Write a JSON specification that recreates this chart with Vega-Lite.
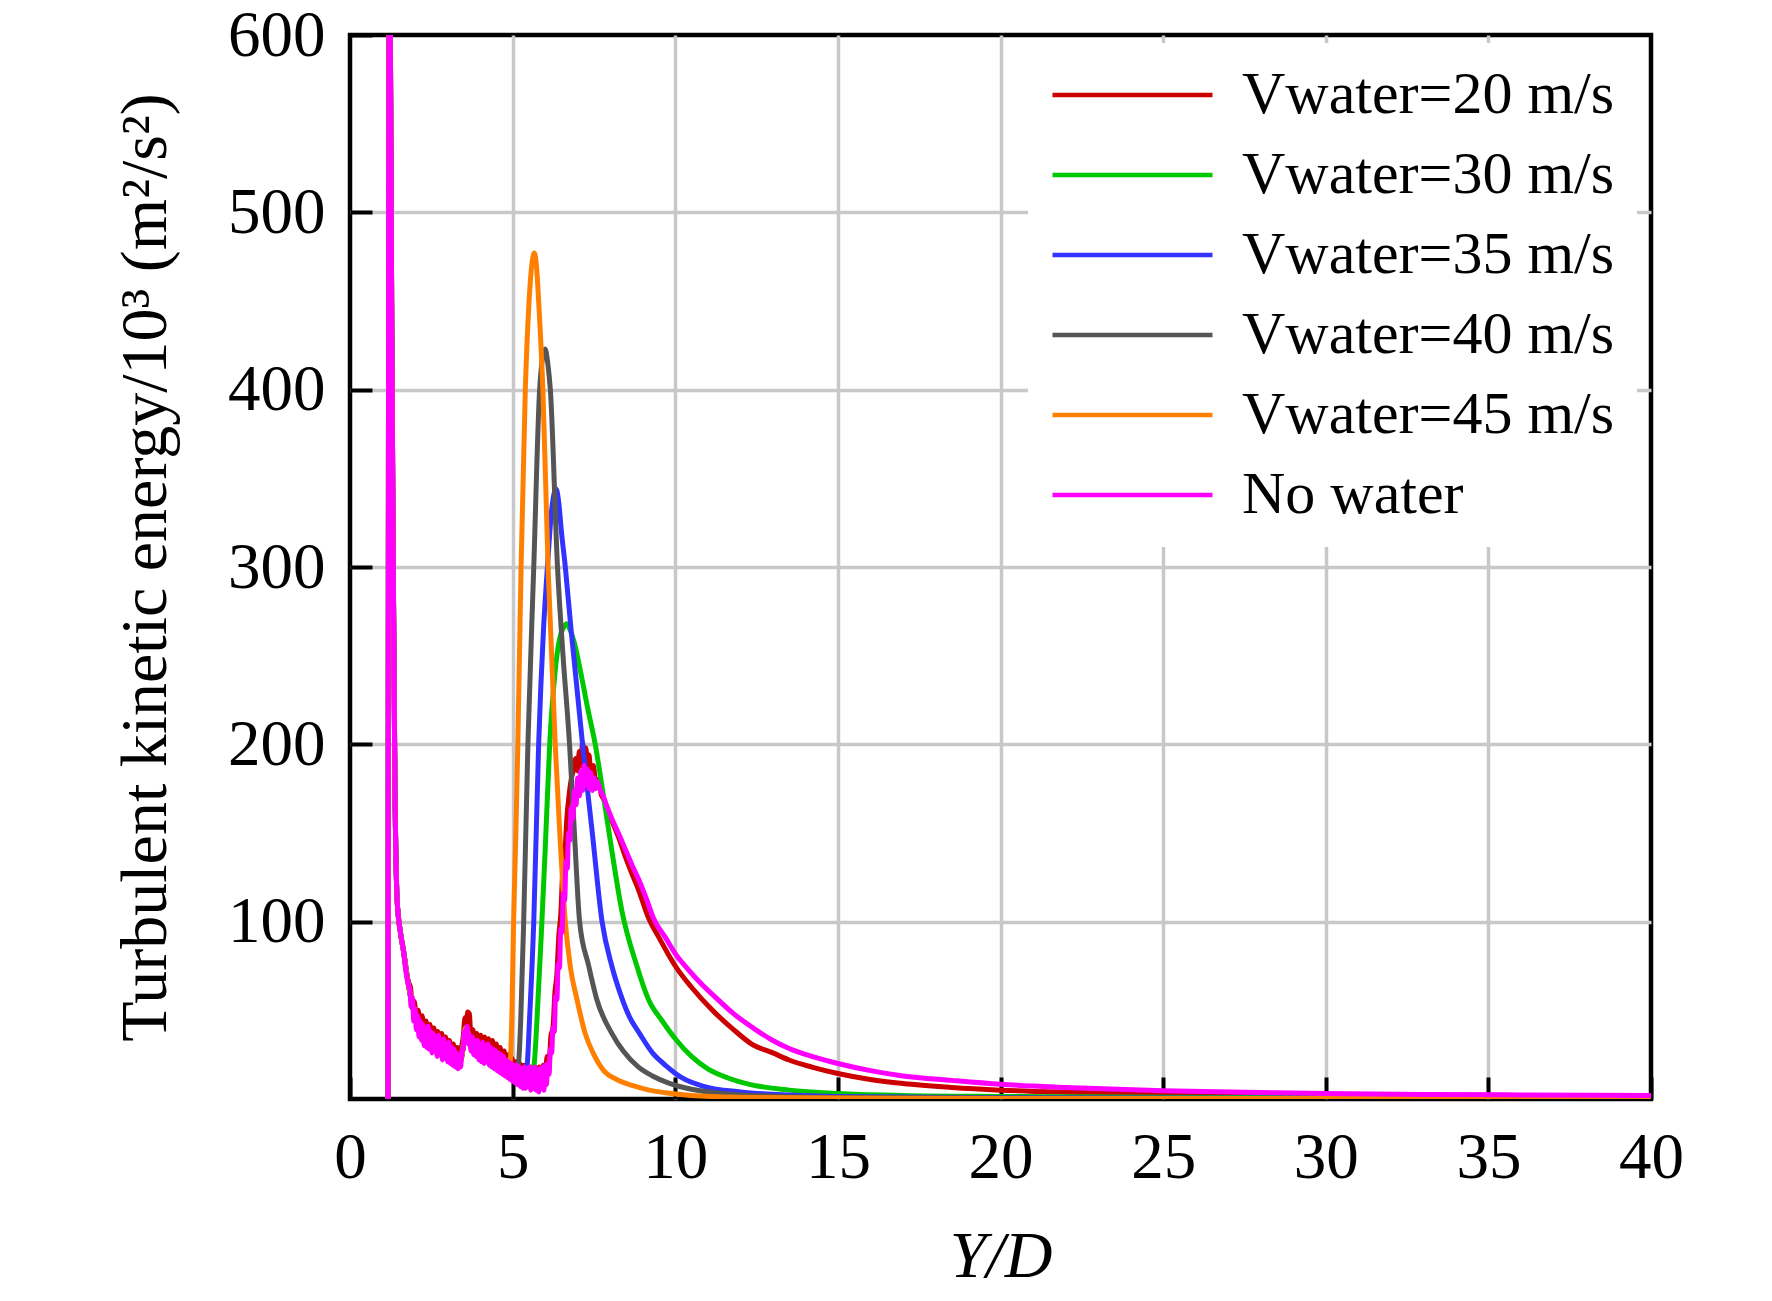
{
  "$schema": "https://vega.github.io/schema/vega-lite/v6.json",
  "width": 1301,
  "height": 1064,
  "autosize": {"type": "none"},
  "padding": {"left": 350, "top": 35, "right": 121, "bottom": 202},
  "background": "white",
  "data": {
    "values": [
      {"series":"V20","x":1.17,"k":0},{"series":"V20","x":1.2,"k":600},{"series":"V20","x":1.24,"k":600},{"series":"V20","x":1.28,"k":450},{"series":"V20","x":1.33,"k":300},{"series":"V20","x":1.38,"k":180},{"series":"V20","x":1.45,"k":112},{"series":"V20","x":1.55,"k":94},{"series":"V20","x":1.65,"k":83},{"series":"V20","x":1.72,"k":73},{"series":"V20","x":1.8,"k":66},
      {"series":"V20","x":1.86,"k":63},{"series":"V20","x":1.92,"k":51},{"series":"V20","x":1.98,"k":55},{"series":"V20","x":2.04,"k":43},{"series":"V20","x":2.1,"k":50},{"series":"V20","x":2.16,"k":38},{"series":"V20","x":2.22,"k":47},{"series":"V20","x":2.28,"k":35},{"series":"V20","x":2.34,"k":44},{"series":"V20","x":2.4,"k":33},{"series":"V20","x":2.46,"k":42},{"series":"V20","x":2.52,"k":31},{"series":"V20","x":2.58,"k":40},{"series":"V20","x":2.64,"k":29},{"series":"V20","x":2.7,"k":38},{"series":"V20","x":2.76,"k":28},{"series":"V20","x":2.82,"k":37},{"series":"V20","x":2.88,"k":27},{"series":"V20","x":2.94,"k":35},{"series":"V20","x":3.0,"k":25},{"series":"V20","x":3.06,"k":33},{"series":"V20","x":3.12,"k":24},{"series":"V20","x":3.18,"k":31},{"series":"V20","x":3.24,"k":22},{"series":"V20","x":3.3,"k":29},{"series":"V20","x":3.36,"k":21},{"series":"V20","x":3.42,"k":28},{"series":"V20","x":3.48,"k":35},{"series":"V20","x":3.54,"k":46},{"series":"V20","x":3.58,"k":42},{"series":"V20","x":3.62,"k":49},{"series":"V20","x":3.67,"k":48},{"series":"V20","x":3.72,"k":35},{"series":"V20","x":3.78,"k":39},{"series":"V20","x":3.84,"k":30},{"series":"V20","x":3.9,"k":37},{"series":"V20","x":3.96,"k":28},{"series":"V20","x":4.02,"k":36},{"series":"V20","x":4.08,"k":27},{"series":"V20","x":4.14,"k":35},{"series":"V20","x":4.2,"k":26},{"series":"V20","x":4.26,"k":34},{"series":"V20","x":4.32,"k":25},{"series":"V20","x":4.38,"k":33},{"series":"V20","x":4.44,"k":23},{"series":"V20","x":4.5,"k":31},{"series":"V20","x":4.56,"k":22},{"series":"V20","x":4.62,"k":29},{"series":"V20","x":4.68,"k":20},{"series":"V20","x":4.74,"k":27},{"series":"V20","x":4.8,"k":18},{"series":"V20","x":4.86,"k":25},{"series":"V20","x":4.92,"k":16},{"series":"V20","x":4.98,"k":23},{"series":"V20","x":5.04,"k":14},{"series":"V20","x":5.1,"k":21},{"series":"V20","x":5.16,"k":12},{"series":"V20","x":5.22,"k":20},{"series":"V20","x":5.28,"k":11},{"series":"V20","x":5.34,"k":19},{"series":"V20","x":5.4,"k":10},{"series":"V20","x":5.46,"k":19},{"series":"V20","x":5.52,"k":9},{"series":"V20","x":5.58,"k":18},{"series":"V20","x":5.64,"k":9},{"series":"V20","x":5.7,"k":18},{"series":"V20","x":5.76,"k":8},{"series":"V20","x":5.82,"k":18},{"series":"V20","x":5.88,"k":9},{"series":"V20","x":5.94,"k":19},{"series":"V20","x":6.0,"k":12},{"series":"V20","x":6.06,"k":24},{"series":"V20","x":6.12,"k":20},{"series":"V20","x":6.18,"k":36},{"series":"V20","x":6.24,"k":40},{"series":"V20","x":6.3,"k":60},{"series":"V20","x":6.36,"k":70},{"series":"V20","x":6.42,"k":92},{"series":"V20","x":6.48,"k":104},{"series":"V20","x":6.54,"k":128},{"series":"V20","x":6.6,"k":136},{"series":"V20","x":6.67,"k":159},{"series":"V20","x":6.74,"k":172},{"series":"V20","x":6.82,"k":182},{"series":"V20","x":6.88,"k":186},{"series":"V20","x":6.94,"k":192},{"series":"V20","x":7.0,"k":185},{"series":"V20","x":7.05,"k":196},{"series":"V20","x":7.1,"k":188},{"series":"V20","x":7.15,"k":201},{"series":"V20","x":7.2,"k":191},{"series":"V20","x":7.25,"k":198},{"series":"V20","x":7.3,"k":187},{"series":"V20","x":7.35,"k":194},{"series":"V20","x":7.4,"k":184},{"series":"V20","x":7.48,"k":188},{"series":"V20","x":7.56,"k":178},{"series":"V20","x":7.64,"k":180},{"series":"V20","x":7.72,"k":172},{"series":"V20","x":7.8,"k":169},{"series":"V20","x":7.9,"k":164},{"series":"V20","x":8.05,"k":157},{"series":"V20","x":8.25,"k":148},{"series":"V20","x":8.46,"k":137},{"series":"V20","x":8.67,"k":127},{"series":"V20","x":8.87,"k":118},{"series":"V20","x":9.18,"k":102},{"series":"V20","x":9.5,"k":91},{"series":"V20","x":10.0,"k":75},{"series":"V20","x":10.5,"k":63},{"series":"V20","x":11.2,"k":49},{"series":"V20","x":11.8,"k":39},{"series":"V20","x":12.35,"k":31},{"series":"V20","x":13.0,"k":26},{"series":"V20","x":13.5,"k":22},{"series":"V20","x":14.2,"k":18},{"series":"V20","x":15,"k":14.4},{"series":"V20","x":16,"k":11},{"series":"V20","x":17,"k":8.7},{"series":"V20","x":18.5,"k":6.5},{"series":"V20","x":20,"k":5},{"series":"V20","x":22,"k":3.8},{"series":"V20","x":25,"k":2.7},{"series":"V20","x":30,"k":1.8},{"series":"V20","x":35,"k":1.4},{"series":"V20","x":40,"k":1.2},

      {"series":"V30","x":1.17,"k":0},{"series":"V30","x":1.2,"k":600},{"series":"V30","x":1.24,"k":600},{"series":"V30","x":1.28,"k":450},{"series":"V30","x":1.33,"k":300},{"series":"V30","x":1.38,"k":180},{"series":"V30","x":1.45,"k":112},{"series":"V30","x":1.55,"k":94},{"series":"V30","x":1.65,"k":83},{"series":"V30","x":1.8,"k":64},{"series":"V30","x":2.0,"k":47},{"series":"V30","x":2.2,"k":39},{"series":"V30","x":2.4,"k":35},{"series":"V30","x":2.6,"k":32},{"series":"V30","x":2.8,"k":30},{"series":"V30","x":3.0,"k":27.5},{"series":"V30","x":3.2,"k":24},{"series":"V30","x":3.4,"k":21.5},{"series":"V30","x":3.47,"k":28},{"series":"V30","x":3.55,"k":40},{"series":"V30","x":3.62,"k":38},{"series":"V30","x":3.7,"k":33},{"series":"V30","x":3.85,"k":30},{"series":"V30","x":4.0,"k":28.5},{"series":"V30","x":4.2,"k":27},{"series":"V30","x":4.4,"k":25},{"series":"V30","x":4.6,"k":22.5},{"series":"V30","x":4.8,"k":20},
      {"series":"V30","x":5.0,"k":17},{"series":"V30","x":5.2,"k":15},{"series":"V30","x":5.4,"k":14},{"series":"V30","x":5.55,"k":15},{"series":"V30","x":5.65,"k":18},{"series":"V30","x":5.75,"k":45},{"series":"V30","x":5.9,"k":100},{"series":"V30","x":6.0,"k":140},{"series":"V30","x":6.14,"k":200},{"series":"V30","x":6.3,"k":240},{"series":"V30","x":6.45,"k":260},{"series":"V30","x":6.57,"k":266},{"series":"V30","x":6.66,"k":268},{"series":"V30","x":6.78,"k":264},{"series":"V30","x":6.9,"k":257},{"series":"V30","x":7.1,"k":240},{"series":"V30","x":7.3,"k":221},{"series":"V30","x":7.54,"k":200},{"series":"V30","x":7.8,"k":170},{"series":"V30","x":8.05,"k":140},{"series":"V30","x":8.36,"k":106},{"series":"V30","x":8.82,"k":75},{"series":"V30","x":9.18,"k":56},{"series":"V30","x":9.6,"k":44},{"series":"V30","x":10.0,"k":34},{"series":"V30","x":10.5,"k":24},{"series":"V30","x":11.0,"k":17},{"series":"V30","x":11.6,"k":12},{"series":"V30","x":12.35,"k":8},{"series":"V30","x":13.5,"k":5},{"series":"V30","x":15,"k":3.1},{"series":"V30","x":17,"k":2},{"series":"V30","x":20,"k":1.4},{"series":"V30","x":25,"k":1},{"series":"V30","x":30,"k":0.7},{"series":"V30","x":40,"k":0.5},

      {"series":"V35","x":1.17,"k":0},{"series":"V35","x":1.2,"k":600},{"series":"V35","x":1.24,"k":600},{"series":"V35","x":1.28,"k":450},{"series":"V35","x":1.33,"k":300},{"series":"V35","x":1.38,"k":180},{"series":"V35","x":1.45,"k":112},{"series":"V35","x":1.55,"k":94},{"series":"V35","x":1.65,"k":83},{"series":"V35","x":1.8,"k":64},{"series":"V35","x":2.0,"k":47},{"series":"V35","x":2.2,"k":39},{"series":"V35","x":2.4,"k":35},{"series":"V35","x":2.6,"k":32},{"series":"V35","x":2.8,"k":30},{"series":"V35","x":3.0,"k":27.5},{"series":"V35","x":3.2,"k":24},{"series":"V35","x":3.4,"k":21.5},{"series":"V35","x":3.47,"k":28},{"series":"V35","x":3.55,"k":40},{"series":"V35","x":3.62,"k":38},{"series":"V35","x":3.7,"k":33},{"series":"V35","x":3.85,"k":30},{"series":"V35","x":4.0,"k":28.5},{"series":"V35","x":4.2,"k":27},{"series":"V35","x":4.4,"k":25},{"series":"V35","x":4.6,"k":22.5},{"series":"V35","x":4.8,"k":20},
      {"series":"V35","x":5.0,"k":17},{"series":"V35","x":5.2,"k":15},{"series":"V35","x":5.35,"k":15},{"series":"V35","x":5.44,"k":18},{"series":"V35","x":5.52,"k":45},{"series":"V35","x":5.65,"k":100},{"series":"V35","x":5.8,"k":200},{"series":"V35","x":5.95,"k":265},{"series":"V35","x":6.07,"k":300},{"series":"V35","x":6.2,"k":332},{"series":"V35","x":6.34,"k":344},{"series":"V35","x":6.42,"k":336},{"series":"V35","x":6.5,"k":320},{"series":"V35","x":6.62,"k":300},{"series":"V35","x":6.8,"k":264},{"series":"V35","x":7.15,"k":200},{"series":"V35","x":7.45,"k":150},{"series":"V35","x":7.75,"k":100},{"series":"V35","x":8.05,"k":75},{"series":"V35","x":8.3,"k":60},{"series":"V35","x":8.6,"k":46},{"series":"V35","x":8.9,"k":37},{"series":"V35","x":9.3,"k":26},{"series":"V35","x":9.7,"k":19},{"series":"V35","x":10.2,"k":12},{"series":"V35","x":10.9,"k":7},{"series":"V35","x":12,"k":4},{"series":"V35","x":13.5,"k":2.2},{"series":"V35","x":15,"k":1.4},{"series":"V35","x":20,"k":0.7},{"series":"V35","x":40,"k":0.3},

      {"series":"V40","x":1.17,"k":0},{"series":"V40","x":1.2,"k":600},{"series":"V40","x":1.24,"k":600},{"series":"V40","x":1.28,"k":450},{"series":"V40","x":1.33,"k":300},{"series":"V40","x":1.38,"k":180},{"series":"V40","x":1.45,"k":112},{"series":"V40","x":1.55,"k":94},{"series":"V40","x":1.65,"k":83},{"series":"V40","x":1.8,"k":64},{"series":"V40","x":2.0,"k":47},{"series":"V40","x":2.2,"k":39},{"series":"V40","x":2.4,"k":35},{"series":"V40","x":2.6,"k":32},{"series":"V40","x":2.8,"k":30},{"series":"V40","x":3.0,"k":27.5},{"series":"V40","x":3.2,"k":24},{"series":"V40","x":3.4,"k":21.5},{"series":"V40","x":3.47,"k":28},{"series":"V40","x":3.55,"k":40},{"series":"V40","x":3.62,"k":38},{"series":"V40","x":3.7,"k":33},{"series":"V40","x":3.85,"k":30},{"series":"V40","x":4.0,"k":28.5},{"series":"V40","x":4.2,"k":27},{"series":"V40","x":4.4,"k":25},{"series":"V40","x":4.6,"k":22.5},{"series":"V40","x":4.8,"k":20},
      {"series":"V40","x":5.0,"k":17},{"series":"V40","x":5.1,"k":16},{"series":"V40","x":5.18,"k":20},{"series":"V40","x":5.25,"k":45},{"series":"V40","x":5.34,"k":100},{"series":"V40","x":5.47,"k":200},{"series":"V40","x":5.65,"k":300},{"series":"V40","x":5.83,"k":400},{"series":"V40","x":5.92,"k":418},{"series":"V40","x":6.0,"k":423},{"series":"V40","x":6.08,"k":415},{"series":"V40","x":6.16,"k":400},{"series":"V40","x":6.38,"k":300},{"series":"V40","x":6.55,"k":250},{"series":"V40","x":6.75,"k":200},{"series":"V40","x":6.9,"k":150},{"series":"V40","x":7.06,"k":100},{"series":"V40","x":7.34,"k":75},{"series":"V40","x":7.59,"k":56},{"series":"V40","x":8.05,"k":37},{"series":"V40","x":8.4,"k":27},{"series":"V40","x":8.87,"k":18},{"series":"V40","x":9.3,"k":13},{"series":"V40","x":9.8,"k":9},{"series":"V40","x":10.5,"k":5.5},{"series":"V40","x":11.5,"k":3},{"series":"V40","x":13,"k":1.6},{"series":"V40","x":15,"k":0.9},{"series":"V40","x":20,"k":0.5},{"series":"V40","x":40,"k":0.2},

      {"series":"V45","x":1.17,"k":0},{"series":"V45","x":1.2,"k":600},{"series":"V45","x":1.24,"k":600},{"series":"V45","x":1.28,"k":450},{"series":"V45","x":1.33,"k":300},{"series":"V45","x":1.38,"k":180},{"series":"V45","x":1.45,"k":112},{"series":"V45","x":1.55,"k":94},{"series":"V45","x":1.65,"k":83},{"series":"V45","x":1.8,"k":64},{"series":"V45","x":2.0,"k":47},{"series":"V45","x":2.2,"k":39},{"series":"V45","x":2.4,"k":35},{"series":"V45","x":2.6,"k":32},{"series":"V45","x":2.8,"k":30},{"series":"V45","x":3.0,"k":27.5},{"series":"V45","x":3.2,"k":24},{"series":"V45","x":3.4,"k":21.5},{"series":"V45","x":3.47,"k":28},{"series":"V45","x":3.55,"k":40},{"series":"V45","x":3.62,"k":38},{"series":"V45","x":3.7,"k":33},{"series":"V45","x":3.85,"k":30},{"series":"V45","x":4.0,"k":28.5},{"series":"V45","x":4.2,"k":27},{"series":"V45","x":4.4,"k":25},{"series":"V45","x":4.6,"k":22.5},{"series":"V45","x":4.8,"k":20},
      {"series":"V45","x":4.85,"k":18},{"series":"V45","x":4.93,"k":22},{"series":"V45","x":4.98,"k":50},{"series":"V45","x":5.03,"k":100},{"series":"V45","x":5.1,"k":150},{"series":"V45","x":5.16,"k":200},{"series":"V45","x":5.26,"k":300},{"series":"V45","x":5.39,"k":400},{"series":"V45","x":5.5,"k":448},{"series":"V45","x":5.6,"k":472},{"series":"V45","x":5.67,"k":477},{"series":"V45","x":5.74,"k":468},{"series":"V45","x":5.8,"k":450},{"series":"V45","x":5.93,"k":400},{"series":"V45","x":6.09,"k":300},{"series":"V45","x":6.31,"k":200},{"series":"V45","x":6.45,"k":150},{"series":"V45","x":6.62,"k":100},{"series":"V45","x":6.77,"k":75},{"series":"V45","x":6.98,"k":56},{"series":"V45","x":7.23,"k":37},{"series":"V45","x":7.5,"k":25},{"series":"V45","x":7.8,"k":16},{"series":"V45","x":8.2,"k":11},{"series":"V45","x":8.7,"k":7.5},{"series":"V45","x":9.2,"k":5},{"series":"V45","x":9.7,"k":3.5},{"series":"V45","x":10.5,"k":2},{"series":"V45","x":12,"k":1},{"series":"V45","x":15,"k":0.5},{"series":"V45","x":20,"k":0.3},{"series":"V45","x":40,"k":0.2},

      {"series":"None","x":1.17,"k":0},{"series":"None","x":1.2,"k":600},{"series":"None","x":1.24,"k":600},{"series":"None","x":1.28,"k":450},{"series":"None","x":1.33,"k":300},{"series":"None","x":1.38,"k":180},{"series":"None","x":1.45,"k":112},{"series":"None","x":1.55,"k":94},{"series":"None","x":1.65,"k":83},{"series":"None","x":1.72,"k":72},{"series":"None","x":1.8,"k":64},
      {"series":"None","x":1.84,"k":62},{"series":"None","x":1.88,"k":52},{"series":"None","x":1.92,"k":57},{"series":"None","x":1.96,"k":44},{"series":"None","x":2.0,"k":51},{"series":"None","x":2.04,"k":39},{"series":"None","x":2.08,"k":47},{"series":"None","x":2.12,"k":35},{"series":"None","x":2.16,"k":44},{"series":"None","x":2.2,"k":33},{"series":"None","x":2.24,"k":42},{"series":"None","x":2.28,"k":30},{"series":"None","x":2.32,"k":40},{"series":"None","x":2.36,"k":29},{"series":"None","x":2.4,"k":41},{"series":"None","x":2.44,"k":28},{"series":"None","x":2.48,"k":38},{"series":"None","x":2.52,"k":26},{"series":"None","x":2.56,"k":37},{"series":"None","x":2.6,"k":27},{"series":"None","x":2.64,"k":35},{"series":"None","x":2.68,"k":24},{"series":"None","x":2.72,"k":36},{"series":"None","x":2.76,"k":25},{"series":"None","x":2.8,"k":33},{"series":"None","x":2.84,"k":22},{"series":"None","x":2.88,"k":34},{"series":"None","x":2.92,"k":23},{"series":"None","x":2.96,"k":31},{"series":"None","x":3.0,"k":21},{"series":"None","x":3.04,"k":32},{"series":"None","x":3.08,"k":20},{"series":"None","x":3.12,"k":29},{"series":"None","x":3.16,"k":19},{"series":"None","x":3.2,"k":28},{"series":"None","x":3.24,"k":18},{"series":"None","x":3.28,"k":26},{"series":"None","x":3.32,"k":17},{"series":"None","x":3.36,"k":25},{"series":"None","x":3.4,"k":18},{"series":"None","x":3.44,"k":27},{"series":"None","x":3.48,"k":28},{"series":"None","x":3.52,"k":38},{"series":"None","x":3.56,"k":36},{"series":"None","x":3.6,"k":41},{"series":"None","x":3.64,"k":31},{"series":"None","x":3.68,"k":36},{"series":"None","x":3.72,"k":27},{"series":"None","x":3.76,"k":35},{"series":"None","x":3.8,"k":25},{"series":"None","x":3.84,"k":33},{"series":"None","x":3.88,"k":24},{"series":"None","x":3.92,"k":33},{"series":"None","x":3.96,"k":22},{"series":"None","x":4.0,"k":31},{"series":"None","x":4.04,"k":21},{"series":"None","x":4.08,"k":32},{"series":"None","x":4.12,"k":20},{"series":"None","x":4.16,"k":30},{"series":"None","x":4.2,"k":21},{"series":"None","x":4.24,"k":31},{"series":"None","x":4.28,"k":19},{"series":"None","x":4.32,"k":29},{"series":"None","x":4.36,"k":18},{"series":"None","x":4.4,"k":28},{"series":"None","x":4.44,"k":17},{"series":"None","x":4.48,"k":27},{"series":"None","x":4.52,"k":16},{"series":"None","x":4.56,"k":26},{"series":"None","x":4.6,"k":15},{"series":"None","x":4.64,"k":25},{"series":"None","x":4.68,"k":14},{"series":"None","x":4.72,"k":24},{"series":"None","x":4.76,"k":13},{"series":"None","x":4.8,"k":22},{"series":"None","x":4.84,"k":12},{"series":"None","x":4.88,"k":21},{"series":"None","x":4.92,"k":11},{"series":"None","x":4.96,"k":20},{"series":"None","x":5.0,"k":10},{"series":"None","x":5.04,"k":19},{"series":"None","x":5.08,"k":9},{"series":"None","x":5.12,"k":19},{"series":"None","x":5.16,"k":8},{"series":"None","x":5.2,"k":18},{"series":"None","x":5.24,"k":7},{"series":"None","x":5.28,"k":17},{"series":"None","x":5.32,"k":6},{"series":"None","x":5.36,"k":18},{"series":"None","x":5.4,"k":6},{"series":"None","x":5.44,"k":17},{"series":"None","x":5.48,"k":7},{"series":"None","x":5.52,"k":18},{"series":"None","x":5.56,"k":5},{"series":"None","x":5.6,"k":17},{"series":"None","x":5.64,"k":6},{"series":"None","x":5.68,"k":18},{"series":"None","x":5.72,"k":5},{"series":"None","x":5.76,"k":16},{"series":"None","x":5.8,"k":4},{"series":"None","x":5.84,"k":17},{"series":"None","x":5.88,"k":6},{"series":"None","x":5.92,"k":18},{"series":"None","x":5.96,"k":5},{"series":"None","x":6.0,"k":19},{"series":"None","x":6.04,"k":8},
      {"series":"None","x":6.08,"k":20},{"series":"None","x":6.12,"k":14},{"series":"None","x":6.16,"k":28},{"series":"None","x":6.2,"k":26},{"series":"None","x":6.24,"k":40},{"series":"None","x":6.28,"k":38},{"series":"None","x":6.32,"k":58},{"series":"None","x":6.36,"k":56},{"series":"None","x":6.4,"k":76},{"series":"None","x":6.44,"k":74},{"series":"None","x":6.48,"k":96},{"series":"None","x":6.52,"k":94},{"series":"None","x":6.56,"k":116},{"series":"None","x":6.6,"k":112},{"series":"None","x":6.64,"k":134},{"series":"None","x":6.68,"k":130},{"series":"None","x":6.72,"k":150},{"series":"None","x":6.76,"k":146},{"series":"None","x":6.8,"k":164},{"series":"None","x":6.85,"k":158},{"series":"None","x":6.9,"k":174},{"series":"None","x":6.95,"k":166},{"series":"None","x":7.0,"k":181},{"series":"None","x":7.05,"k":171},{"series":"None","x":7.1,"k":185},{"series":"None","x":7.15,"k":174},{"series":"None","x":7.2,"k":188},{"series":"None","x":7.25,"k":177},{"series":"None","x":7.3,"k":186},{"series":"None","x":7.35,"k":175},{"series":"None","x":7.4,"k":184},{"series":"None","x":7.45,"k":174},{"series":"None","x":7.5,"k":181},{"series":"None","x":7.55,"k":175},{"series":"None","x":7.6,"k":179},{"series":"None","x":7.7,"k":174},{"series":"None","x":7.8,"k":170},{"series":"None","x":7.9,"k":165},{"series":"None","x":8.05,"k":158},{"series":"None","x":8.25,"k":150},{"series":"None","x":8.46,"k":141},{"series":"None","x":8.67,"k":132},{"series":"None","x":8.87,"k":124},{"series":"None","x":9.13,"k":112},{"series":"None","x":9.33,"k":102},{"series":"None","x":9.7,"k":91},{"series":"None","x":10.0,"k":82},{"series":"None","x":10.4,"k":73},{"series":"None","x":10.8,"k":65},{"series":"None","x":11.2,"k":58},{"series":"None","x":11.8,"k":48},{"series":"None","x":12.4,"k":40},{"series":"None","x":13.0,"k":33},{"series":"None","x":13.5,"k":28.5},{"series":"None","x":14.2,"k":24},{"series":"None","x":15,"k":20},{"series":"None","x":16,"k":16},{"series":"None","x":17,"k":13},{"series":"None","x":18.5,"k":10.5},{"series":"None","x":20,"k":8.3},{"series":"None","x":22,"k":6.5},{"series":"None","x":25,"k":4.6},{"series":"None","x":28,"k":3.6},{"series":"None","x":30,"k":3.1},{"series":"None","x":33,"k":2.6},{"series":"None","x":36,"k":2.3},{"series":"None","x":40,"k":2.0}
    ]
  },
  "mark": {"type": "line", "strokeWidth": 5, "clip": true, "strokeJoin": "round", "interpolate": "monotone"},
  "encoding": {
    "x": {
      "field": "x",
      "type": "quantitative",
      "scale": {"domain": [0, 40], "nice": false},
      "axis": {
        "values": [0, 5, 10, 15, 20, 25, 30, 35, 40],
        "title": "Y/D",
        "titleFontStyle": "italic",
        "labelFlush": false,
        "labelOverlap": false,
        "labelPadding": 49,
        "titlePadding": 34,
        "gridOpacity": {"condition": {"test": "datum.value == 0 || datum.value == 40", "value": 0}, "value": 1}
      }
    },
    "y": {
      "field": "k",
      "type": "quantitative",
      "scale": {"domain": [0, 600], "nice": false},
      "axis": {
        "values": [100, 200, 300, 400, 500, 600],
        "title": "Turbulent kinetic energy/10³ (m²/s²)",
        "labelOverlap": false,
        "labelPadding": 47,
        "titlePadding": 48,
        "gridOpacity": {"condition": {"test": "datum.value == 600", "value": 0}, "value": 1}
      }
    },
    "color": {
      "field": "series",
      "type": "nominal",
      "scale": {
        "domain": ["V20", "V30", "V35", "V40", "V45", "None"],
        "range": ["#cc0000", "#00c800", "#3333ff", "#555555", "#ff8000", "#ff00ff"]
      },
      "legend": {
        "title": null,
        "orient": "none",
        "legendX": 678,
        "legendY": 8,
        "padding": 22,
        "fillColor": "white",
        "symbolType": "stroke",
        "symbolSize": 25600,
        "symbolStrokeWidth": 4.5,
        "clipHeight": 60,
        "labelFont": "Liberation Serif",
        "labelFontSize": 60,
        "labelColor": "black",
        "labelOffset": 27,
        "labelLimit": 1000,
        "rowPadding": 20,
        "labelExpr": "datum.label == 'None' ? 'No water' : 'Vwater=' + slice(datum.label, 1) + ' m/s'"
      }
    }
  },
  "config": {
    "font": "Liberation Serif",
    "view": {"stroke": "black", "strokeWidth": 4.5},
    "axis": {
      "domain": false,
      "ticks": true,
      "tickColor": "black",
      "tickWidth": 4,
      "tickSize": -22,
      "labelFont": "Liberation Serif",
      "labelFontSize": 65,
      "labelColor": "black",
      "titleFont": "Liberation Serif",
      "titleFontSize": 66,
      "titleFontWeight": "normal",
      "titleColor": "black",
      "gridColor": "#c8c8c8",
      "gridWidth": 3.5
    }
  }
}
